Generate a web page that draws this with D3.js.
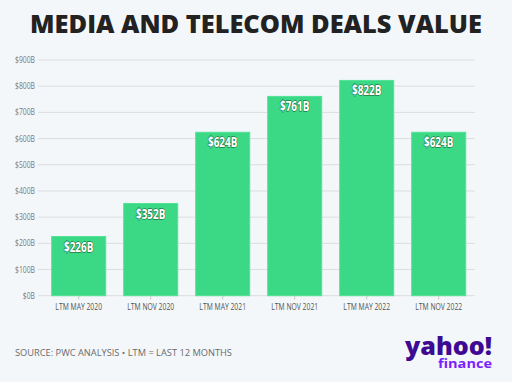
<!DOCTYPE html>
<html><head><meta charset="utf-8">
<script src="https://cdn.jsdelivr.net/npm/d3@7"></script>
<style>
html,body{margin:0;padding:0;background:#f4f7fa;}
svg{display:block;}
</style></head>
<body>
<svg id="c" width="512" height="382"></svg>
<script>
const categories = ["LTM MAY 2020","LTM NOV 2020","LTM MAY 2021","LTM NOV 2021","LTM MAY 2022","LTM NOV 2022"];
const values = [226, 352, 624, 761, 822, 624];
const yTicks = [0,100,200,300,400,500,600,700,800,900];
const title = "MEDIA AND TELECOM DEALS VALUE";
const source = "SOURCE: PWC ANALYSIS \u2022 LTM = LAST 12 MONTHS";

const W = 512, H = 382;
const svg = d3.select("#c");
svg.append("rect").attr("width",W).attr("height",H).attr("fill","#f4f7fa");

const sans = "'Open Sans','Noto Sans',sans-serif";

function fitText(sel, target) {
  const fs = parseFloat(sel.attr("font-size"));
  const w = sel.node().getComputedTextLength();
  if (w > 0) sel.attr("font-size", (fs * target / w).toFixed(2));
}
function measure(str, size, weight) {
  const tmp = svg.append("text").attr("font-family",sans).attr("font-size",size)
    .attr("font-weight",weight).text(str);
  const w = tmp.node().getComputedTextLength();
  tmp.remove();
  return w;
}

// Title
const t = svg.append("text").attr("x",256).attr("y",33).attr("text-anchor","middle")
  .attr("font-family",sans).attr("font-weight",800)
  .attr("font-size",26).attr("fill","#222").text(title);
fitText(t, 452);

const y = d3.scaleLinear().domain([0,900]).range([295.7, 60]);
const x = d3.scaleBand().domain(categories).range([42.7, 474.7]).paddingInner(0.25).paddingOuter(0.125);

// gridlines
svg.append("g").selectAll("line").data(yTicks).join("line")
  .attr("x1",38).attr("x2",475)
  .attr("y1",d=>y(d)).attr("y2",d=>y(d))
  .attr("stroke","#dcdde0").attr("stroke-width",1);

// y labels (condensed by horizontal scaling)
const ySize = 8.5;
const ySx = 20 / measure("$900B", ySize, 400);
svg.append("g").selectAll("text").data(yTicks).join("text")
  .attr("transform",d=>`translate(35,${y(d)+3}) scale(${ySx},1)`)
  .attr("text-anchor","end")
  .attr("font-family",sans).attr("font-size",ySize)
  .attr("fill","#7a7a7a").text(d=>"$"+d+"B");

// bars
svg.append("g").selectAll("rect").data(values).join("rect")
  .attr("x",(d,i)=>x(categories[i]))
  .attr("width",x.bandwidth())
  .attr("y",d=>y(d))
  .attr("height",d=>y(0)-y(d))
  .attr("fill","#3bd985").attr("stroke","#52e297").attr("stroke-width",1);

// x axis ticks
const xa = svg.append("g");
xa.selectAll("line").data(categories).join("line")
  .attr("x1",d=>x(d)+x.bandwidth()/2).attr("x2",d=>x(d)+x.bandwidth()/2)
  .attr("y1",295.7).attr("y2",299.5).attr("stroke","#c8c8c8");
const xSize = 9.5;
const xSx = 46.7 / measure(categories[0], xSize, 400);
xa.selectAll("text").data(categories).join("text")
  .attr("transform",d=>`translate(${x(d)+x.bandwidth()/2},310) scale(${xSx},1)`)
  .attr("text-anchor","middle")
  .attr("font-family",sans).attr("font-size",xSize)
  .attr("fill","#555").text(d=>d);

// value labels
const vSize = 13.5;
const vSx = 29.5 / measure("$226B", vSize, 700);
svg.append("g").selectAll("text").data(values).join("text")
  .attr("transform",(d,i)=>`translate(${x(categories[i])+x.bandwidth()/2},${y(d)+15}) scale(${vSx},1)`)
  .attr("text-anchor","middle")
  .attr("font-family",sans).attr("font-weight",700).attr("font-size",vSize)
  .attr("fill","#fff").attr("stroke","#1f7a4a").attr("stroke-width",1.4)
  .attr("paint-order","stroke").attr("stroke-linejoin","round")
  .text(d=>"$"+d+"B");

// source
const s = svg.append("text").attr("x",15).attr("y",356)
  .attr("font-family",sans).attr("font-weight",400)
  .attr("font-size",9.5).attr("fill","#6a6a6a").text(source);
fitText(s, 217);

// yahoo finance logo (as one text element with two lines)
const logo = svg.append("text").attr("font-family",sans);
logo.append("tspan").attr("x",405).attr("y",355)
  .attr("font-weight",800).attr("font-size",25).attr("fill","#3d0a91")
  .attr("textLength",87).attr("lengthAdjust","spacingAndGlyphs").text("yahoo!");
logo.append("tspan").attr("x",438).attr("y",367.5)
  .attr("font-weight",700).attr("font-size",12).attr("fill","#7b1fff")
  .attr("textLength",54).attr("lengthAdjust","spacingAndGlyphs").text("finance");
</script>
</body></html>
